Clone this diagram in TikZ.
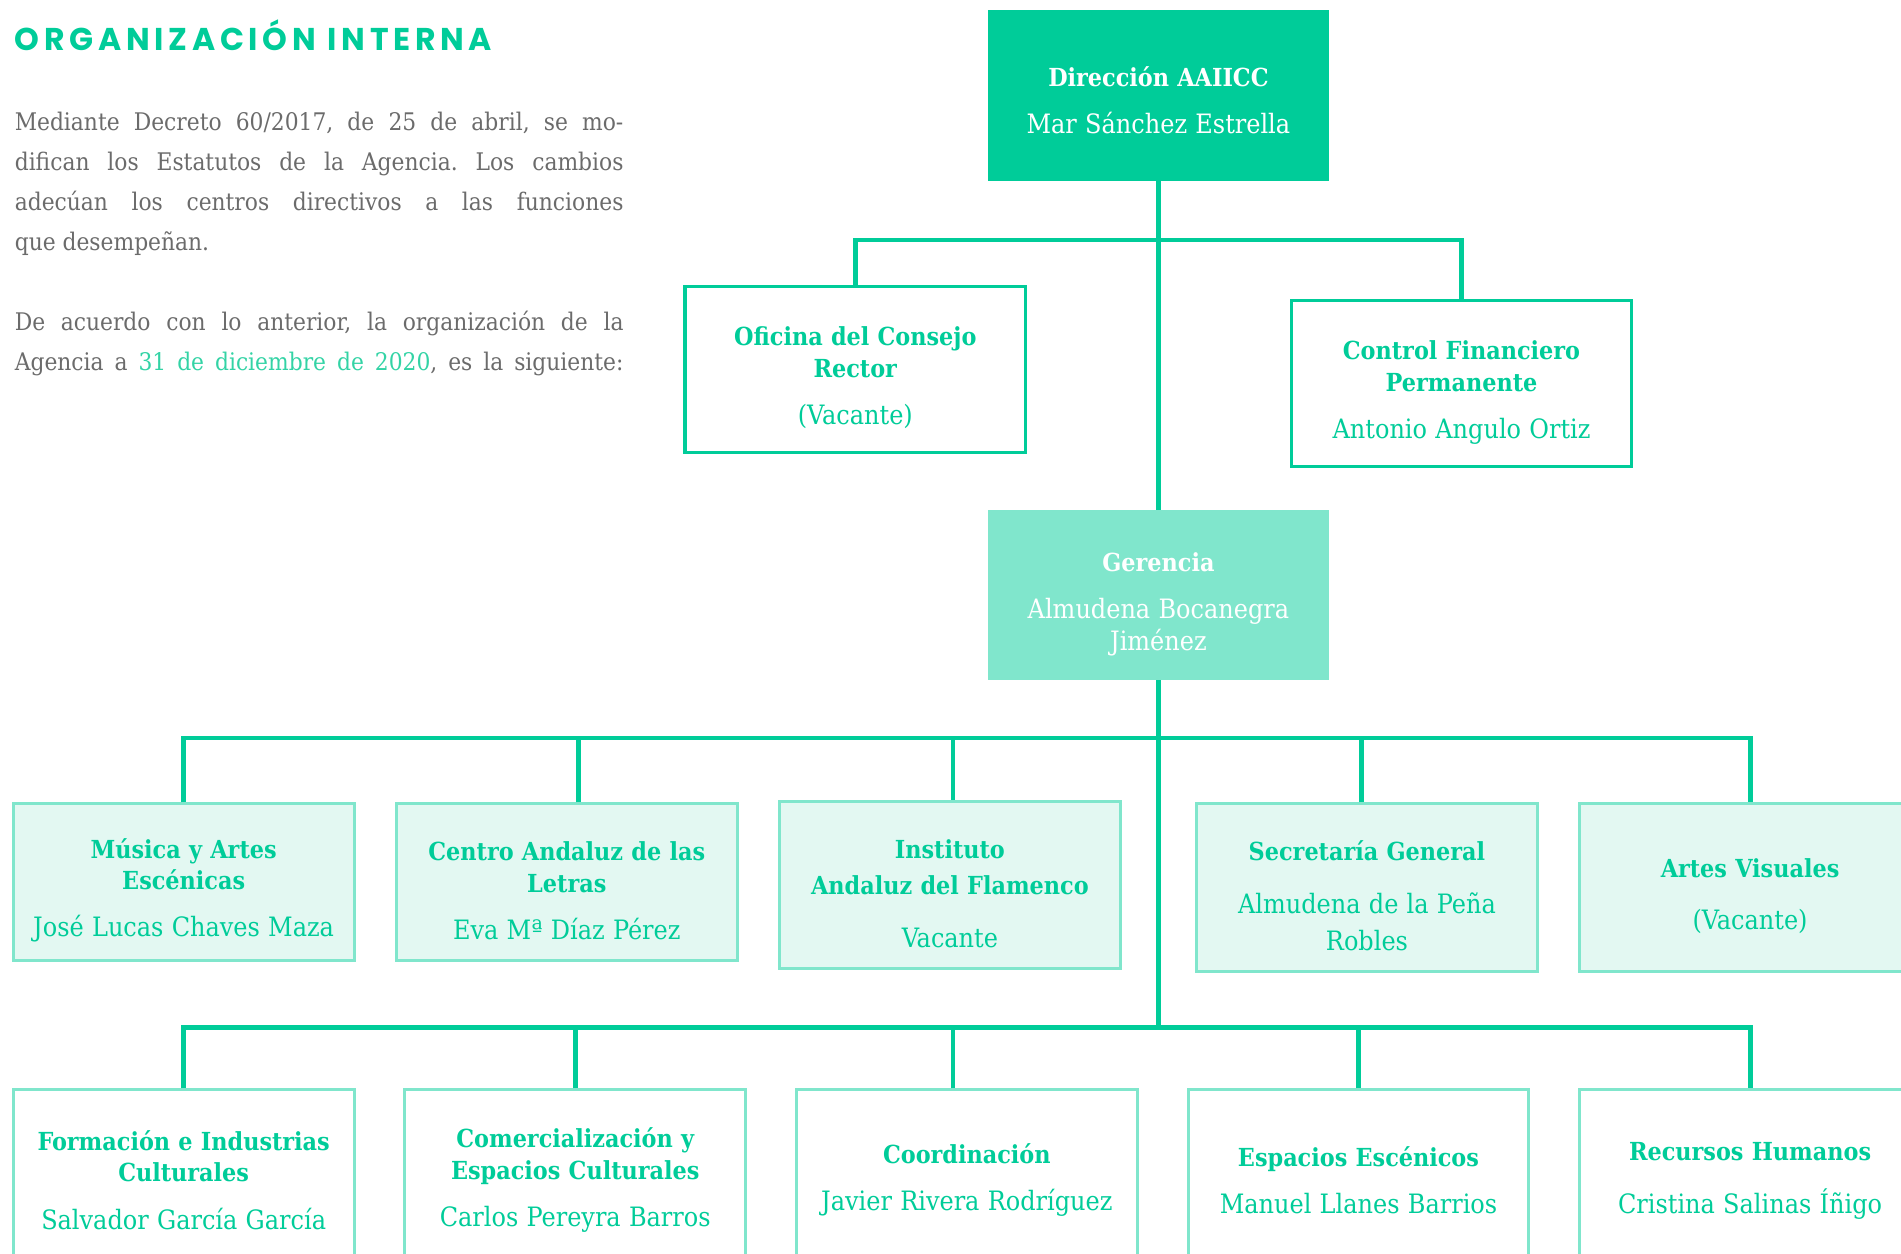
\documentclass[tikz,border=0pt]{standalone}
\usepackage{fontspec}
\setmainfont{DejaVu Serif Condensed}
\newfontfamily\headfont{Poppins}[LetterSpace=15]
\usetikzlibrary{positioning}

\definecolor{verde}{HTML}{00CC99}
\definecolor{verdeclaro}{HTML}{80E6CC}
\definecolor{verdepalido}{HTML}{E3F8F2}
\definecolor{gristexto}{HTML}{6B6B6B}
\definecolor{verdefecha}{HTML}{33D3A5}

\newcommand\puesto[3][13pt]{\rule{0pt}{30pt}\textbf{#2}\\[#1]{\fontsize{22}{26}\selectfont #3\par}}

\tikzset{
  caja/.style={rectangle, minimum width=281pt, minimum height=137pt, text width=276pt,
    align=center, inner sep=0pt, text=verde, font=\fontsize{20.5}{26}\selectfont},
  jefe/.style={caja, fill=verde, text=white, minimum height=141pt,
    execute at end node={\vspace*{5pt}}},
  consejo/.style={caja, fill=white, draw=verde, line width=2.5pt},
  gerencia/.style={caja, fill=verdeclaro, text=white, minimum height=140pt},
  area/.style={caja, fill=verdepalido, draw=verdeclaro, line width=2.5pt},
  servicio/.style={caja, fill=white, draw=verdeclaro, line width=2.5pt, minimum height=145pt,
    execute at end node={\vspace*{10pt}}},
  enlace/.style={draw=verde, line width=4pt},
}

\begin{document}
\begin{tikzpicture}[x=1pt, y=-1pt]
  \useasboundingbox (0,0) rectangle (1568,1034);
  \clip (0,0) rectangle (1568,1034);

  \node[anchor=base west, inner sep=0pt, text=verde, font=\headfont\bfseries\fontsize{26}{26}\selectfont]
    (titulo) at(12,42){ORGANIZACIÓN INTERNA};
  \node[anchor=north west, inner sep=0pt, text width=502pt, align=justify, text=gristexto,
    font=\fontsize{20}{33}\selectfont\frenchspacing] (texto) at(12,92){%
    Mediante Decreto 60/2017, de 25 de abril, se mo-\linebreak
    difican los Estatutos de la Agencia. Los cambios\linebreak
    adecúan los centros directivos a las funciones\linebreak
    que desempeñan.\par\vspace{33pt}
    {\parfillskip=0pt De acuerdo con lo anterior, la organización de la\linebreak
    Agencia a \textcolor{verdefecha}{31 de diciembre de 2020}, es la siguiente:\par}};

  \node[jefe] (dir) at(955.5,78.5){\puesto{Dirección AAIICC}{Mar Sánchez Estrella}};
  \node[consejo] (ofi) at(705.5,304.5){\puesto{Oficina del Consejo\\Rector}{(Vacante)}};
  \node[consejo] (ctl) at(1205.5,316.5){\puesto{Control Financiero\\Permanente}{Antonio Angulo Ortiz}};
  \node[gerencia] (ger) at(955.5,491){\puesto{Gerencia}{Almudena Bocanegra\\Jiménez}};

  \node[area, minimum height=129pt] (mus) at(151.5,727.5){\puesto{Música y Artes\\Escénicas}{José Lucas Chaves Maza}};
  \node[area, minimum height=129pt] (cal) at(467.5,727.5){\puesto{Centro Andaluz de las\\Letras}{Eva Mª Díaz Pérez}};
  \node[area, minimum height=138pt] (iaf) at(783.5,730){\puesto[18pt]{Instituto\\[4pt]Andaluz del Flamenco}{Vacante}};
  \node[area, minimum height=138pt] (sec) at(1127.5,732){\puesto[18pt]{Secretaría General}{Almudena de la Peña\\[4pt]Robles}};
  \node[area, minimum height=138pt] (av) at(1443.5,732){\puesto[17pt]{Artes Visuales}{(Vacante)}};

  \node[servicio] (fic) at(151.5,971.5){\puesto{Formación e Industrias\\Culturales}{Salvador García García}};
  \node[servicio] (com) at(474.5,971.5){\puesto{Comercialización y\\Espacios Culturales}{Carlos Pereyra Barros}};
  \node[servicio] (coo) at(797.5,971.5){\puesto{Coordinación}{Javier Rivera Rodríguez}};
  \node[servicio] (esp) at(1120.5,971.5){\puesto{Espacios Escénicos}{Manuel Llanes Barrios}};
  \node[servicio] (rh) at(1443.5,971.5){\puesto[18pt]{Recursos Humanos}{Cristina Salinas Íñigo}};

  \coordinate (rama) at(955.5,198);
  \coordinate (fila1) at(955.5,610);
  \coordinate (fila2) at(955.5,849);

  \draw[enlace] (dir.south) -- (ger.north);
  \draw[enlace] (ger.south) -- (fila2);
  \draw[enlace] (ofi.north) |- (rama) -| (ctl.north);

  \draw[enlace] (mus.north) -- ++(0,-53) -| (av.north);
  \draw[enlace] ([xshift=9.5pt]cal.north) -- ++(0,-53);
  \draw[enlace] ([xshift=2.5pt]iaf.north) -- ++(0,-51);
  \draw[enlace] ([xshift=-4.5pt]sec.north) -- ++(0,-53);

  \draw[enlace] (fic.north) -- ++(0,-50) -| (rh.north);
  \draw[enlace] (com.north) -- (com.north |- fila2);
  \draw[enlace] ([xshift=-11.5pt]coo.north) -- ++(0,-50);
  \draw[enlace] (esp.north) -- (esp.north |- fila2);
\end{tikzpicture}
\end{document}
